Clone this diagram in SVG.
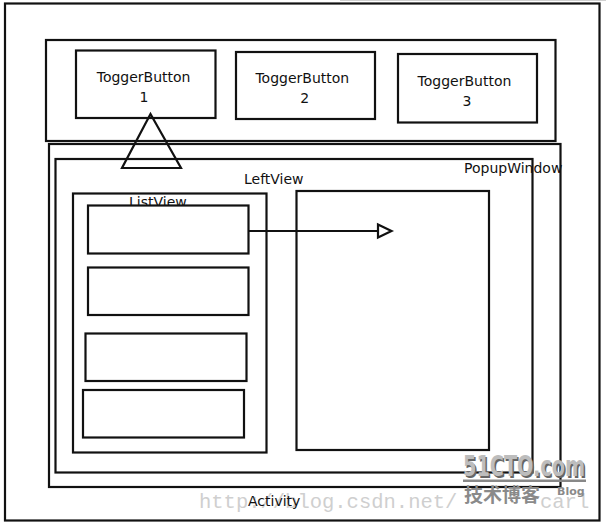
<svg xmlns="http://www.w3.org/2000/svg" width="606" height="525" viewBox="0 0 606 525">
<style>
.box{fill:none;stroke:#111;stroke-width:2.2}
.wbox{fill:#fff;stroke:#111;stroke-width:2.2}
.lbl{font-family:"DejaVu Sans","Noto Sans",sans-serif;font-size:14px;fill:#111}
.mid{text-anchor:middle}
.wm{font-family:"Liberation Mono",monospace;font-size:20.5px;fill:#cfcfcf}
</style>
<rect width="606" height="525" fill="#fff"/>
<line x1="340" y1="0.5" x2="606" y2="0.5" stroke="#d0d0d0" stroke-width="1"/>
<g id="activity">
<rect class="box" x="5" y="3.5" width="594.5" height="517" stroke-width="2.5"/>
</g>
<g id="topbar">
<rect class="box" x="46" y="40" width="509.5" height="101" stroke-width="2.5"/>
</g>
<g id="toggerbutton1">
<rect class="box" x="76" y="50.5" width="139.5" height="67.5"/>
<text class="lbl mid" x="143.6" y="82.3">ToggerButton</text>
<text class="lbl mid" x="144" y="102.3">1</text>
</g>
<g id="toggerbutton2">
<rect class="box" x="236" y="52" width="139" height="67"/>
<text class="lbl mid" x="302.3" y="83.3">ToggerButton</text>
<text class="lbl mid" x="304.7" y="103.3">2</text>
</g>
<g id="toggerbutton3">
<rect class="box" x="398" y="54" width="139" height="68.5"/>
<text class="lbl mid" x="464.5" y="86">ToggerButton</text>
<text class="lbl mid" x="467" y="106">3</text>
</g>
<g id="popupwindow">
<rect class="box" x="49" y="144" width="511.5" height="343"/>
<text class="lbl" x="464" y="173">PopupWindow</text>
</g>
<g id="leftview">
<rect class="box" x="55.5" y="159" width="477" height="313.5"/>
<text class="lbl" x="244" y="184">LeftView</text>
</g>
<g id="listview">
<rect class="box" x="73" y="193.5" width="193.5" height="259"/>
<text class="lbl" x="129" y="207">ListView</text>
</g>
<g id="item1"><rect class="wbox" x="88" y="205.5" width="160.5" height="48"/></g>
<g id="item2"><rect class="wbox" x="88" y="267.5" width="160.5" height="47.5"/></g>
<g id="item3"><rect class="wbox" x="85.5" y="333.5" width="161" height="47.5"/></g>
<g id="item4"><rect class="wbox" x="83" y="390" width="161" height="47.5"/></g>
<g id="contentview">
<rect class="box" x="296.5" y="191" width="192.5" height="259"/>
</g>
<g id="connectors">
<polygon points="150.5,114 122,168 181,168" fill="none" stroke="#111" stroke-width="2.2" stroke-linejoin="miter"/>
<line x1="248.5" y1="231" x2="378" y2="231" stroke="#111" stroke-width="2.2"/>
<polygon points="378,224.5 391.5,231 378,237.5" fill="#fff" stroke="#111" stroke-width="2.2"/>
</g>
<g id="watermark">
<text class="wm" x="199" y="508">http://blog.csdn.net/</text>
<text class="wm" x="540" y="508">carl</text>
</g>
<g id="activity-label">
<text class="lbl" x="248" y="506" font-size="13.5">Activity</text>
</g>
<g id="logo">
<text x="464.5" y="477.5" font-family="DejaVu Sans Condensed,DejaVu Sans,sans-serif" font-weight="bold" font-size="28" textLength="122" lengthAdjust="spacingAndGlyphs" fill="#666">51CTO.com</text>
<text x="463" y="476" font-family="DejaVu Sans Condensed,DejaVu Sans,sans-serif" font-weight="bold" font-size="28" textLength="122" lengthAdjust="spacingAndGlyphs" fill="#bdbdbd">51CTO.com</text>
<rect x="463" y="479.5" width="123" height="2.5" fill="#888"/>
<text x="464" y="502" font-family="Noto Sans CJK SC,sans-serif" font-weight="bold" font-size="19" textLength="76" lengthAdjust="spacingAndGlyphs" fill="#8a8a8a">技术博客</text>
<text x="557" y="495" font-family="DejaVu Sans,sans-serif" font-weight="bold" font-size="11" fill="#8a8a8a">Blog</text>
</g>
</svg>
